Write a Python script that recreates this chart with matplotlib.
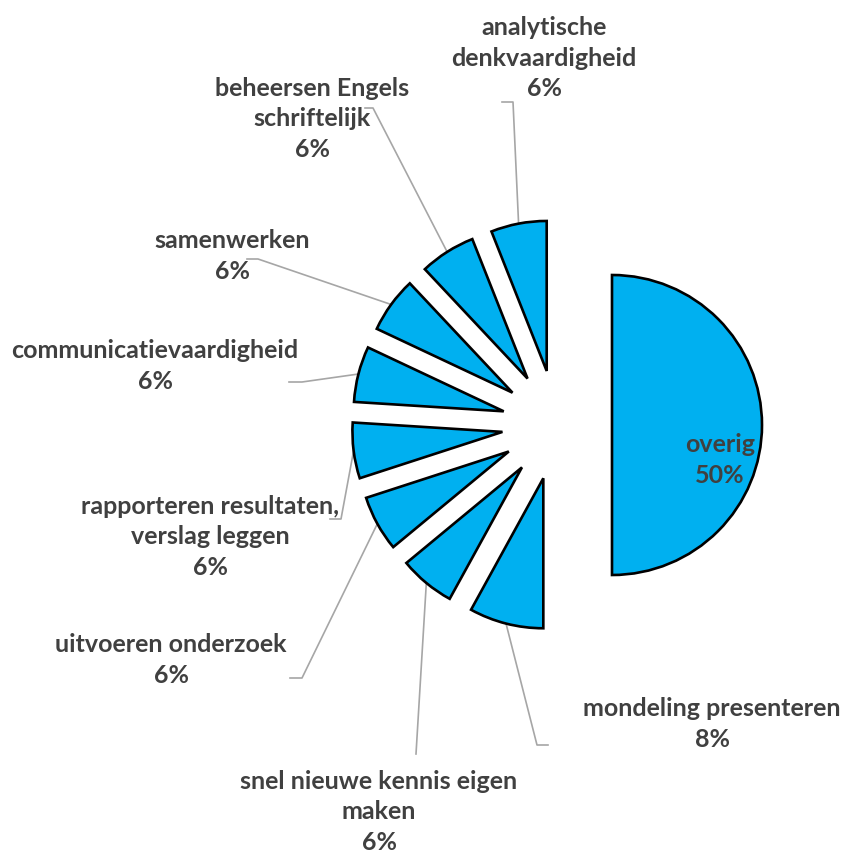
import numpy as np
import matplotlib.pyplot as plt

# slices, clockwise from 12 o'clock
labels = ['overig', 'mondeling presenteren', 'snel nieuwe kennis eigen\nmaken',
          'uitvoeren onderzoek', 'rapporteren resultaten,\nverslag leggen',
          'communicatievaardigheid', 'samenwerken', 'beheersen Engels\nschriftelijk',
          'analytische\ndenkvaardigheid']
shares = [50, 8, 6, 6, 6, 6, 6, 6, 6]

W, H = 846, 854

# label block centres and leader elbows/ends in pixel coords (y from top)
label_pos = [(720, 460), (712, 724), (379, 812), (171, 660), (210, 537),
             (155, 366), (232, 256), (312, 119), (544, 58)]
elbows = [None, (537, 746), (416, 755), (302, 679), (341, 520),
          (302, 383), (258, 260), (373, 109), (513, 103)]
ends = [None, (548, 746), (416, 755), (290, 679), (330, 520),
        (289, 383), (247, 260), (365, 109), (502, 103)]

fig = plt.figure(figsize=(W / 100, H / 100), dpi=100)
ax = fig.add_axes([0, 0, 1, 1])

R = 150
# pie explode is an absolute offset here since radius != 1
wedges, _ = ax.pie(shares, explode=[55] * len(shares), radius=R,
                   center=(557, H - 426), startangle=90, counterclock=False,
                   colors=['#00B0F0'] * len(shares),
                   wedgeprops=dict(edgecolor='black', linewidth=1.9))
ax.set_xlim(0, W)
ax.set_ylim(0, H)
ax.set_aspect('equal')
ax.axis('off')

txt = dict(family='Lato', fontweight='bold', fontsize=18, color='#404040',
           ha='center', va='center', linespacing=1.42)

for i, w in enumerate(wedges):
    pct = '{:.0f}%'.format(shares[i] / sum(shares) * 100)
    lx, ly = label_pos[i]
    ax.text(lx, H - ly, labels[i] + '\n' + pct, **txt)
    if elbows[i] is None:
        continue
    ang = np.deg2rad((w.theta1 + w.theta2) / 2)
    sx = w.center[0] + R * np.cos(ang)
    sy = w.center[1] + R * np.sin(ang)
    ex, ey = elbows[i]
    fx, fy = ends[i]
    ax.plot([sx, ex, fx], [sy, H - ey, H - fy], color='#A6A6A6', lw=1.2,
            zorder=0)

plt.savefig('out.png', dpi=100)
